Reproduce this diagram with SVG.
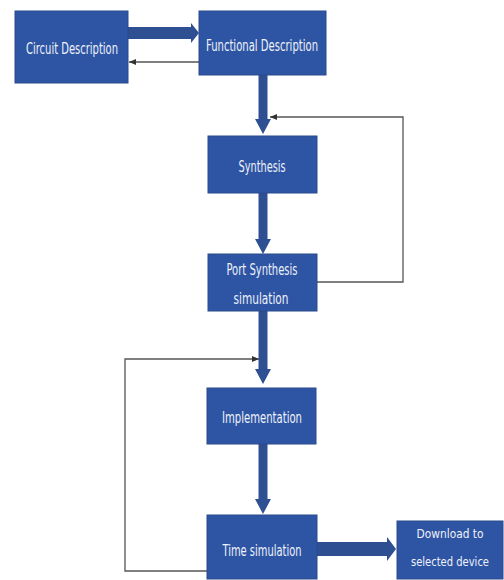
<svg xmlns="http://www.w3.org/2000/svg" width="504" height="580" viewBox="0 0 504 580">
<style>
.box{fill:#2E55A3;stroke:#2A4B8E;stroke-width:1}
.t{fill:#EEF2FA;font-family:"DejaVu Sans Condensed","Liberation Sans",sans-serif;font-size:16px;text-anchor:middle;dominant-baseline:central}
.s{font-size:13px}
.thick{stroke:#2E4F92;stroke-width:9;fill:none}
.thin{stroke:#555;stroke-width:1.3;fill:none}
.head{fill:#2E4F92}
</style>
<defs>
<marker id="sm" markerWidth="8" markerHeight="8" refX="7" refY="4" orient="auto" markerUnits="userSpaceOnUse">
<path d="M0,1 L7,4 L0,7 Z" fill="#333"/>
</marker>
</defs>
<rect width="504" height="580" fill="#fff"/>
<g id="connectors">
<rect x="128" y="27" width="64" height="12" fill="#2E4F92"/>
<path class="head" d="M191,23 L199,33 L191,43 Z"/>
<line class="thin" x1="199" y1="62" x2="129" y2="62" marker-end="url(#sm)"/>
<line class="thick" x1="263" y1="75" x2="263" y2="120"/>
<path class="head" d="M255,119 L271,119 L263,134 Z"/>
<polyline class="thin" points="317,282 403,282 403,117 270,117" marker-end="url(#sm)"/>
<line class="thick" x1="263" y1="193" x2="263" y2="240"/>
<path class="head" d="M255,239 L271,239 L263,254 Z"/>
<line class="thick" x1="263" y1="311" x2="263" y2="370"/>
<path class="head" d="M255,369 L271,369 L263,384 Z"/>
<polyline class="thin" points="207,571 125,571 125,359 259,359" marker-end="url(#sm)"/>
<line class="thick" x1="263" y1="444" x2="263" y2="500"/>
<path class="head" d="M255,499 L271,499 L263,514 Z"/>
<rect x="317" y="542" width="71" height="14" fill="#2E4F92"/>
<path class="head" d="M387,537 L396,549 L387,561 Z"/>
</g>
<g id="circuit">
<rect class="box" x="15" y="11" width="113" height="72"/>
<text class="t" x="72" y="48" textLength="92" lengthAdjust="spacingAndGlyphs">Circuit Description</text>
</g>
<g id="functional">
<rect class="box" x="199" y="11" width="127" height="64"/>
<text class="t" x="262" y="45" textLength="112" lengthAdjust="spacingAndGlyphs">Functional Description</text>
</g>
<g id="synthesis">
<rect class="box" x="208" y="136" width="109" height="57"/>
<text class="t" x="262" y="166" textLength="47" lengthAdjust="spacingAndGlyphs">Synthesis</text>
</g>
<g id="port">
<rect class="box" x="208" y="254" width="109" height="57"/>
<text class="t" x="262" y="269" textLength="71" lengthAdjust="spacingAndGlyphs">Port Synthesis</text>
<text class="t" x="261" y="298" textLength="55" lengthAdjust="spacingAndGlyphs">simulation</text>
</g>
<g id="implementation">
<rect class="box" x="207" y="388" width="109" height="56"/>
<text class="t" x="262" y="417" textLength="80" lengthAdjust="spacingAndGlyphs">Implementation</text>
</g>
<g id="timesim">
<rect class="box" x="207" y="515" width="110" height="64"/>
<text class="t" x="262" y="550" textLength="79" lengthAdjust="spacingAndGlyphs">Time simulation</text>
</g>
<g id="download">
<rect class="box" x="397" y="521" width="106" height="58"/>
<text class="t s" x="450" y="533" textLength="67" lengthAdjust="spacingAndGlyphs">Download to</text>
<text class="t s" x="450" y="561" textLength="78" lengthAdjust="spacingAndGlyphs">selected device</text>
</g>
</svg>
